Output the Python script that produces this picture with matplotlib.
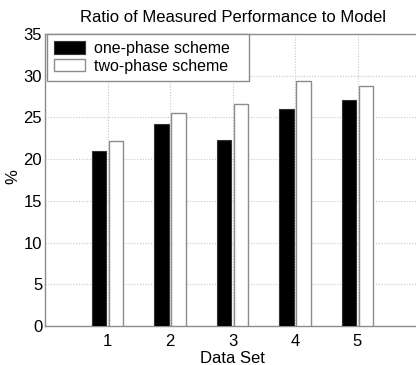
import matplotlib
matplotlib.use("Agg")
import matplotlib.pyplot as plt
import numpy as np

plt.rcParams['font.family'] = ['Liberation Sans', 'DejaVu Sans']

data_sets = [1, 2, 3, 4, 5]
one_phase = [21.0, 24.2, 22.3, 26.0, 27.1]
two_phase = [22.2, 25.5, 26.6, 29.4, 28.8]
y_ticks = [0, 5, 10, 15, 20, 25, 30, 35]

fig = plt.figure(figsize=(4.16, 3.65), dpi=100)
ax = fig.add_axes([45 / 416, 1 - 326 / 365, 375 / 416, 292 / 365])

x = np.array(data_sets, dtype=float)
w = 0.23
edge = '#8c8c8c'
ax.bar(x - 0.137, one_phase, width=w, color='black', edgecolor='#333333',
       linewidth=0.8, label='one-phase scheme', zorder=3)
ax.bar(x + 0.137, two_phase, width=w, color='white', edgecolor=edge,
       linewidth=1.0, label='two-phase scheme', zorder=3)

ax.set_xlim(0, 6)
ax.set_ylim(0, 35)
ax.set_xticks(data_sets)
ax.set_yticks(y_ticks)
ax.tick_params(axis='y', length=0, labelsize=12, pad=2, colors='black')
ax.tick_params(axis='x', length=0, labelsize=12, pad=6, colors='black')
ax.grid(True, linestyle=(0, (1, 1.5)), color='#c8c8c8', linewidth=0.8, zorder=0)
for s in ax.spines.values():
    s.set_color(edge)
    s.set_linewidth(1.0)

ax.set_title('Ratio of Measured Performance to Model', fontsize=12, pad=9)
ax.set_xlabel('Data Set', fontsize=12, labelpad=1)
ax.set_ylabel('%', fontsize=12)
ax.yaxis.set_label_coords(-25 / 375, (326 - 177) / 292)

leg = ax.legend(loc='upper left', bbox_to_anchor=(2 / 375, 0.0, 202 / 375, 1.0),
                mode='expand', fontsize=11.5,
                fancybox=False, framealpha=1, edgecolor=edge,
                handlelength=1.9, handleheight=0.85, borderpad=0.45,
                labelspacing=0.15, handletextpad=0.6, borderaxespad=0)
leg.get_frame().set_linewidth(1.0)

fig.savefig('out.png', dpi=100)
